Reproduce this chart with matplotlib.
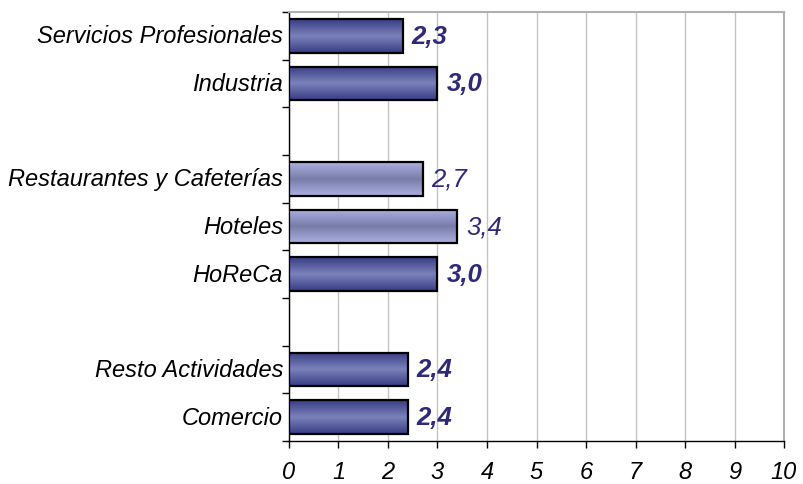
import numpy as np
import matplotlib.pyplot as plt
from matplotlib.colors import LinearSegmentedColormap
from matplotlib.patches import Rectangle

plt.rcParams['font.family'] = ['Liberation Sans', 'DejaVu Sans']

# data, top to bottom; None marks an empty slot
categories = ["Servicios Profesionales", "Industria", None,
              "Restaurantes y Cafeterías", "Hoteles", "HoReCa", None,
              "Resto Actividades", "Comercio"]
values = [2.3, 3.0, None, 2.7, 3.4, 3.0, None, 2.4, 2.4]
light = [False, False, None, True, True, False, None, False, False]
labels = ["2,3", "3,0", None, "2,7", "3,4", "3,0", None, "2,4", "2,4"]
xticks = list(range(0, 11))

dark_cmap = LinearSegmentedColormap.from_list(
    "dark", ["#383d85", "#7c82bb", "#383d85"])
light_cmap = LinearSegmentedColormap.from_list(
    "light", ["#acb0e2", "#777ca8", "#acb0e2"])

fig = plt.figure(figsize=(8.04, 4.85), dpi=100)
ax = fig.add_axes([289 / 804, 1 - 442 / 485, (784 - 289) / 804, (442 - 13) / 485])

n = len(categories)
ax.set_xlim(0, 10)
ax.set_ylim(n - 0.5, -0.5)

bh = 0.71
grad = np.linspace(0, 1, 64).reshape(-1, 1)
for i, (cat, v, lt, lab) in enumerate(zip(categories, values, light, labels)):
    if cat is None:
        continue
    cmap = light_cmap if lt else dark_cmap
    rect = Rectangle((0, i - bh / 2), v, bh, facecolor="none",
                     edgecolor="black", lw=1.6, zorder=4)
    ax.add_patch(rect)
    im = ax.imshow(grad, cmap=cmap, aspect="auto",
                   extent=[0, v, i + bh / 2, i - bh / 2], zorder=3)
    im.set_clip_path(rect)
    ax.text(v + 0.18, i, lab, va="center", ha="left", fontsize=18.5,
            style="italic", fontweight="normal" if lt else "bold",
            color="#2f2a78", zorder=5)
    ax.text(-0.12, i, cat, va="center", ha="right", fontsize=17,
            style="italic", transform=ax.transData)

ax.set_xlim(0, 10)
ax.set_ylim(n - 0.5, -0.5)

ax.set_xticks(xticks)
ax.set_xticklabels([str(t) for t in xticks], fontsize=17, style="italic")
ax.tick_params(axis="x", direction="out", length=5, pad=9, width=1)
ax.set_yticks(np.arange(-0.5, n, 1.0))
ax.set_yticklabels([])
ax.tick_params(axis="y", direction="out", length=5, width=1)

ax.grid(axis="x", color="#c4c4c4", lw=1)
ax.set_axisbelow(True)
for s in ["top", "right"]:
    ax.spines[s].set_color("#b0b0b0")
    ax.spines[s].set_linewidth(1.5)
for s in ["left", "bottom"]:
    ax.spines[s].set_color("black")
    ax.spines[s].set_linewidth(1)

fig.savefig("out.png", dpi=100)
